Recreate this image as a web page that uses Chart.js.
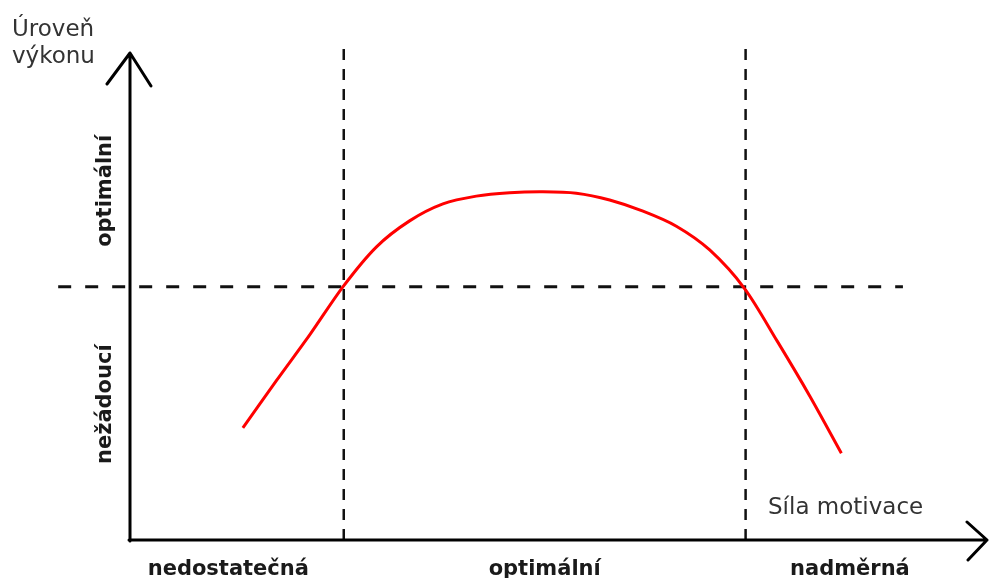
<!DOCTYPE html>
<html>
<head>
<meta charset="utf-8">
<script src="https://cdn.jsdelivr.net/npm/chart.js@4.4.1/dist/chart.umd.min.js"></script>
<style>
  html, body { margin: 0; padding: 0; background: #fff; }
  #wrap { width: 989px; height: 578px; position: relative; }
</style>
</head>
<body>
<div id="wrap"><canvas id="chart"></canvas></div>
<script>
// --- data (motivation strength 0..100, performance 0..100) ---
const curveX = [13.2, 17.1, 21.1, 24.9, 28.8, 32.7, 36.6, 40.5, 44.4, 48.3, 52.2, 56.1, 60.0, 63.9, 67.8, 71.9, 75.7, 79.5, 83.2];
const curveY = [23.1, 32.8, 42.5, 52.2, 60.4, 65.8, 69.3, 70.9, 71.6, 71.8, 71.5, 70.1, 67.8, 64.7, 59.8, 51.8, 41.0, 29.7, 17.9];

const xZoneLabels = ["nedostatečná", "optimální", "nadměrná"];
const xZonePos = [11.5, 48.5, 84.2];
const yZoneLabels = ["nežádoucí", "optimální"];
const yZonePos = [28, 72];

const thresholdsX = [25, 72];
const thresholdY = 52.2;
const dashXRange = [-8.4, 90.4];   // horizontal dashed line extent
const dashYRange = [0, 101.4];     // vertical dashed line extent

const yTitle = ["Úroveň", "výkonu"];
const xTitle = "Síla motivace";

const curvePoints = curveX.map((x, i) => ({ x: x, y: curveY[i] }));

const dashStyle = {
  borderColor: "#111",
  pointRadius: 0,
  showLine: true,
  fill: false,
  clip: false
};

const datasets = [{
  label: "výkon",
  data: curvePoints,
  borderColor: "#ff0000",
  borderWidth: 3,
  pointRadius: 0,
  showLine: true,
  fill: false,
  tension: 0.3,
  clip: false
}, Object.assign({
  label: "hranice výkonu",
  data: [{ x: dashXRange[0], y: thresholdY }, { x: dashXRange[1], y: thresholdY }],
  borderWidth: 3,
  borderDash: [13, 14]
}, dashStyle)];

thresholdsX.forEach(t => {
  datasets.push(Object.assign({
    label: "hranice motivace",
    data: [{ x: t, y: dashYRange[0] }, { x: t, y: dashYRange[1] }],
    borderWidth: 2.5,
    borderDash: [11, 9]
  }, dashStyle));
});

// axes with arrows + texts
const sketchPlugin = {
  id: "sketch",
  afterDatasetsDraw(chart) {
    const ctx = chart.ctx;
    const xs = chart.scales.x, ys = chart.scales.y;
    const ox = xs.getPixelForValue(0), oy = ys.getPixelForValue(0);
    const xEnd = xs.getPixelForValue(100) + 2;
    const yEnd = ys.getPixelForValue(100) - 2;

    ctx.save();
    ctx.strokeStyle = "#000";
    ctx.lineWidth = 3;
    ctx.lineCap = "round";
    ctx.lineJoin = "round";
    ctx.beginPath();
    ctx.moveTo(ox, oy + 1);
    ctx.lineTo(ox, yEnd);
    ctx.moveTo(ox - 1, oy);
    ctx.lineTo(xEnd, oy);
    // y arrow
    ctx.moveTo(ox - 23, yEnd + 31);
    ctx.lineTo(ox, yEnd);
    ctx.lineTo(ox + 21, yEnd + 33);
    // x arrow
    ctx.moveTo(xEnd - 20, oy - 18);
    ctx.lineTo(xEnd, oy);
    ctx.lineTo(xEnd - 19, oy + 20);
    ctx.stroke();

    // axis titles
    ctx.fillStyle = "#333";
    ctx.font = "23px 'DejaVu Sans'";
    ctx.textAlign = "left";
    ctx.textBaseline = "alphabetic";
    ctx.fillText(yTitle[0], 12, 36);
    ctx.fillText(yTitle[1], 12, 63);
    ctx.fillText(xTitle, 768, 514);

    // zone labels
    ctx.fillStyle = "#1a1a1a";
    ctx.font = "bold 21px 'DejaVu Sans'";
    ctx.textAlign = "center";
    xZoneLabels.forEach((t, i) => {
      ctx.fillText(t, xs.getPixelForValue(xZonePos[i]), 575);
    });
    yZoneLabels.forEach((t, i) => {
      ctx.save();
      ctx.translate(ox - 19, ys.getPixelForValue(yZonePos[i]));
      ctx.rotate(-Math.PI / 2);
      ctx.fillText(t, 0, 0);
      ctx.restore();
    });
    ctx.restore();
  }
};

new Chart(document.getElementById("chart"), {
  type: "scatter",
  data: { datasets: datasets },
  options: {
    responsive: true,
    maintainAspectRatio: false,
    animation: false,
    layout: { padding: { left: 130, top: 55, right: 4, bottom: 38 } },
    plugins: { legend: { display: false }, tooltip: { enabled: false } },
    scales: {
      x: { type: "linear", min: 0, max: 100, display: false },
      y: { type: "linear", min: 0, max: 100, display: false }
    }
  },
  plugins: [sketchPlugin]
});
</script>
</body>
</html>
